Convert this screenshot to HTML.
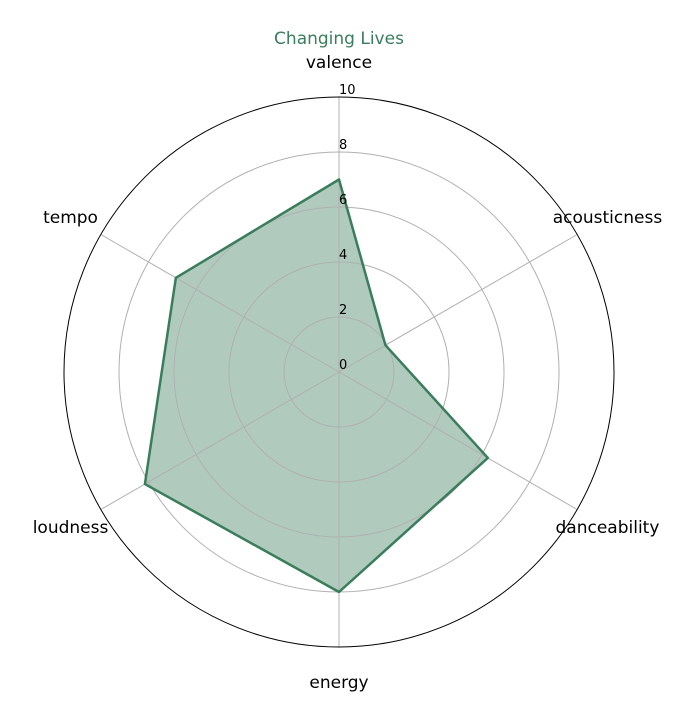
<!DOCTYPE html>
<html><head><meta charset="utf-8">
<style>
html,body{margin:0;padding:0;background:#fff;}
svg{display:block;font-family:"DejaVu Sans","Liberation Sans",sans-serif;}
</style></head>
<body>
<svg id="chart" width="695" height="721">
<text x="339" y="44" text-anchor="middle" font-size="17" fill="#3a7d5c">Changing Lives</text>
</svg>
<script>
const categories = ["valence","acousticness","danceability","energy","loudness","tempo"];
const values = [7.0, 1.95, 6.25, 8.0, 8.15, 6.85];
const tickValues = [0, 2, 4, 6, 8, 10];
const tickLabels = ["0","2","4","6","8","10"];

const NS = "http://www.w3.org/2000/svg";
const svg = document.getElementById("chart");
const cx = 339, cy = 372, R = 275, maxV = 10;
function rScale(v){ return v / maxV * R; }
function angle(i){ return Math.PI/2 - i * 2*Math.PI/categories.length; }
function pt(i, v){ const a = angle(i), r = rScale(v); return [cx + r*Math.cos(a), cy - r*Math.sin(a)]; }
function mk(tag, attrs){ const e = document.createElementNS(NS, tag); for (const k in attrs) e.setAttribute(k, attrs[k]); svg.appendChild(e); return e; }

// series fill
const pts = values.map((v, i) => pt(i, v).join(",")).join(" ");
const poly = mk("polygon", {points: pts, fill: "rgba(58,125,92,0.4)", stroke: "none"});



// grid rings
tickValues.forEach((t) => {
  if (t === 0 || t === maxV) return;
  const c = mk("circle", {cx: cx, cy: cy, r: rScale(t), fill: "none", stroke: "#b0b0b0", "stroke-width": 1});
  
  
});
// spokes
categories.forEach((c, i) => {
  const p = pt(i, maxV);
  const l = mk("line", {x1: cx, y1: cy, x2: p[0], y2: p[1], stroke: "#b0b0b0", "stroke-width": 1});
  
  
});
const outer = mk("circle", {cx: cx, cy: cy, r: R, fill: "none", stroke: "#000", "stroke-width": 1});



// series outline
const line = mk("polygon", {points: pts, fill: "none", stroke: "#3a7d5c", "stroke-width": 2.5, "stroke-linejoin": "round"});



// tick labels
tickValues.forEach((t, k) => {
  const tx = mk("text", {x: cx, y: cy - rScale(t) - 3, "font-size": 13, "text-anchor": "start", fill: "#000"});
  tx.textContent = tickLabels[k];
  
  
});

// category labels
categories.forEach((c, i) => {
  const a = angle(i);
  const x = cx + 310 * Math.cos(a);
  const y = cy - 310 * Math.sin(a);
  const tx = mk("text", {x: x, y: y + 6, "font-size": 17, "text-anchor": "middle", fill: "#000"});
  tx.textContent = c;
  
  
});
</script>
</body></html>
